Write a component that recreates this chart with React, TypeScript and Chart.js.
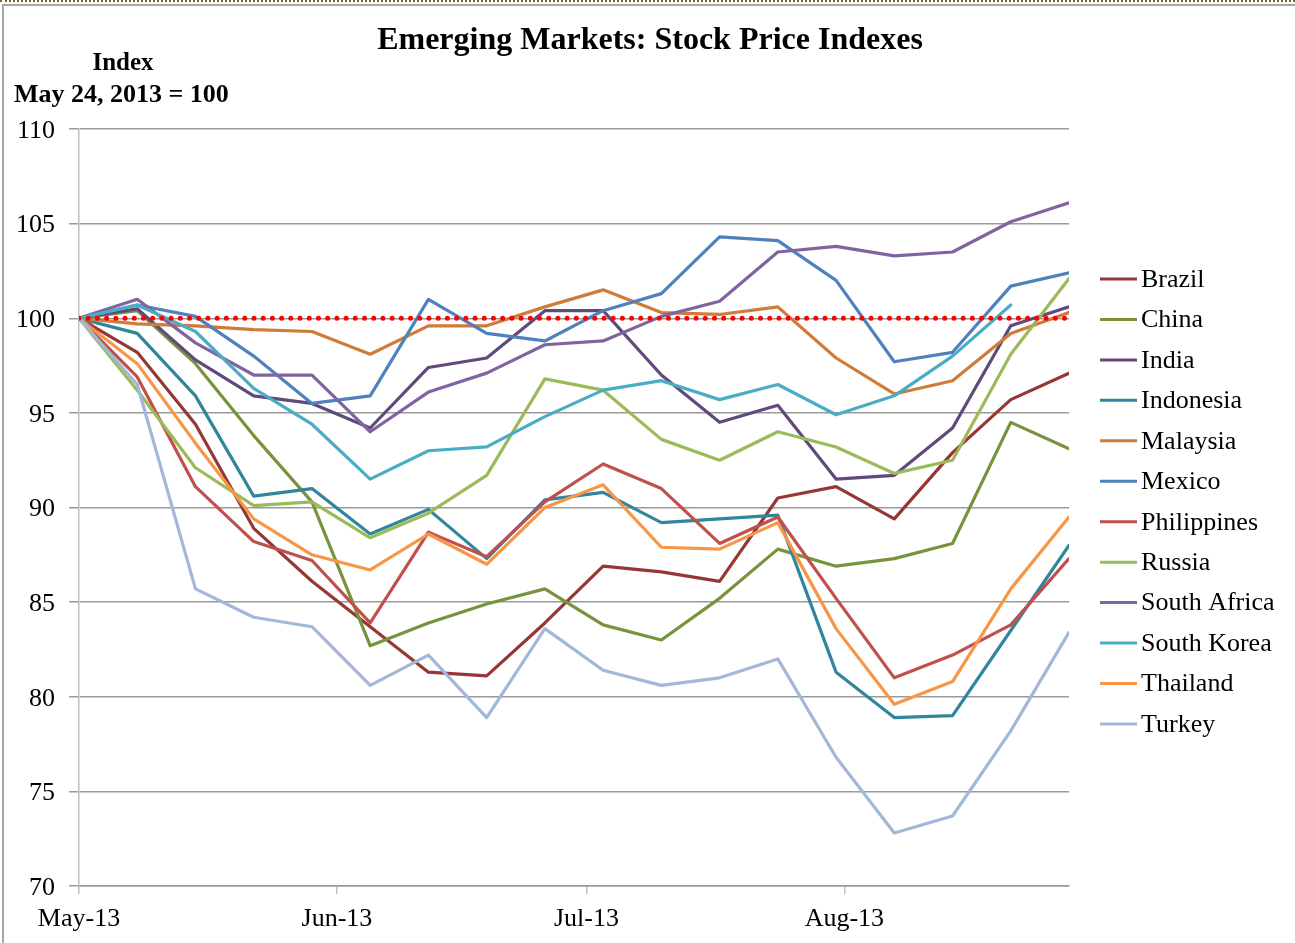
import React, { useEffect, useRef } from "react";
import { Chart, registerables } from "chart.js";

Chart.register(...registerables);

const FONT = '"Liberation Serif", "Times New Roman", serif';

const titleText = "Emerging Markets: Stock Price Indexes";
const axisTitleLine1 = "Index";
const axisTitleLine2 = "May 24, 2013 = 100";

const dates = [
  "2013-05-24", "2013-05-31", "2013-06-07", "2013-06-14", "2013-06-21", "2013-06-28",
  "2013-07-05", "2013-07-12", "2013-07-19", "2013-07-26", "2013-08-02", "2013-08-09",
  "2013-08-16", "2013-08-23", "2013-08-30", "2013-09-06", "2013-09-13", "2013-09-20",
];

const tickDates = ["2013-05-24", "2013-06-24", "2013-07-24", "2013-08-24"];
const tickLabels = ["May-13", "Jun-13", "Jul-13", "Aug-13"];

const yMin = 70;
const yMax = 110;
const yStep = 5;
const referenceLevel = 100;

const countries = [
  "Brazil", "China", "India", "Indonesia", "Malaysia", "Mexico",
  "Philippines", "Russia", "South Africa", "South Korea", "Thailand", "Turkey",
];

const colors = [
  "#953735", "#77933C", "#604A7B", "#31859C", "#D07B37", "#4F81BD",
  "#C0504D", "#9BBB59", "#8064A2", "#4BACC6", "#F79646", "#A3B7D8",
];

const brazil = [100, 98.2, 94.4, 88.9, 86.1, 83.7, 81.3, 81.1, 83.9, 86.9, 86.6, 86.1, 90.5, 91.1, 89.4, 92.9, 95.7, 97.1];
const china = [100, 100.4, 97.6, 93.8, 90.3, 82.7, 83.9, 84.9, 85.7, 83.8, 83.0, 85.2, 87.8, 86.9, 87.3, 88.1, 94.5, 93.1];
const india = [100, 100.5, 97.8, 95.9, 95.5, 94.2, 97.4, 97.9, 100.4, 100.4, 97.0, 94.5, 95.4, 91.5, 91.7, 94.2, 99.6, 100.6];
const indonesia = [100, 99.2, 95.9, 90.6, 91.0, 88.6, 89.9, 87.3, 90.4, 90.8, 89.2, 89.4, 89.6, 81.3, 78.9, 79.0, 83.5, 88.0];
const malaysia = [100, 99.7, 99.6, 99.4, 99.3, 98.1, 99.6, 99.6, 100.6, 101.5, 100.3, 100.2, 100.6, 97.9, 96.0, 96.7, 99.2, 100.3];
const mexico = [100, 100.7, 100.1, 98.0, 95.5, 95.9, 101.0, 99.2, 98.8, 100.4, 101.3, 104.3, 104.1, 102.0, 97.7, 98.2, 101.7, 102.4];
const philippines = [100, 96.9, 91.1, 88.2, 87.2, 83.9, 88.7, 87.4, 90.3, 92.3, 91.0, 88.1, 89.5, 85.2, 81.0, 82.2, 83.8, 87.3];
const russia = [100, 96.2, 92.1, 90.1, 90.3, 88.4, 89.7, 91.7, 96.8, 96.2, 93.6, 92.5, 94.0, 93.2, 91.8, 92.5, 98.1, 102.1];
const southAfrica = [100, 101.0, 98.7, 97.0, 97.0, 94.0, 96.1, 97.1, 98.6, 98.8, 100.1, 100.9, 103.5, 103.8, 103.3, 103.5, 105.1, 106.1];
const southKorea = [100, 100.7, 99.3, 96.3, 94.4, 91.5, 93.0, 93.2, 94.8, 96.2, 96.7, 95.7, 96.5, 94.9, 95.9, 98.0, 100.7, null];
const thailand = [100, 97.6, 93.4, 89.4, 87.5, 86.7, 88.6, 87.0, 90.0, 91.2, 87.9, 87.8, 89.2, 83.6, 79.6, 80.8, 85.7, 89.5];
const turkey = [100, 96.5, 85.7, 84.2, 83.7, 80.6, 82.2, 78.9, 83.6, 81.4, 80.6, 81.0, 82.0, 76.8, 72.8, 73.7, 78.2, 83.4];

const series = [brazil, china, india, indonesia, malaysia, mexico, philippines, russia, southAfrica, southKorea, thailand, turkey];

const DAY = 86400000;
const dayOf = (d: string) => Math.round((Date.parse(d) - Date.parse(dates[0])) / DAY);
const xDays = dates.map(dayOf);
const tickDays = tickDates.map(dayOf);

const overlayPlugin = {
  id: "overlayText",
  afterDraw(chart: any) {
    const ctx = chart.ctx as CanvasRenderingContext2D;
    const area = chart.chartArea;
    ctx.save();
    ctx.fillStyle = "#000";
    ctx.textBaseline = "middle";
    ctx.font = `bold 32px ${FONT}`;
    ctx.textAlign = "center";
    ctx.fillText(titleText, 650, 41);
    ctx.font = `bold 25px ${FONT}`;
    ctx.fillText(axisTitleLine1, 123, 64);
    ctx.textAlign = "left";
    ctx.font = `bold 26px ${FONT}`;
    ctx.fillText(axisTitleLine2, 14, 95);

    // legend
    const items = chart.data.datasets.filter((d: any) => !d.isReference);
    const startY = 279;
    const stepY = 40.45;
    const lx = area.right + 31;
    ctx.font = `26px ${FONT}`;
    items.forEach((d: any, i: number) => {
      const y = startY + i * stepY;
      ctx.strokeStyle = d.borderColor;
      ctx.lineWidth = 3;
      ctx.lineCap = "butt";
      ctx.beginPath();
      ctx.moveTo(lx, y);
      ctx.lineTo(lx + 37, y);
      ctx.stroke();
      ctx.fillStyle = "#000";
      ctx.fillText(d.label, lx + 41, y + 1);
    });
    ctx.restore();
  },
};

export default function App() {
  const ref = useRef<HTMLCanvasElement>(null);

  useEffect(() => {
    if (!ref.current) return;
    const datasets: any[] = countries.map((name, i) => ({
      label: name,
      data: series[i].map((v, j) => ({ x: xDays[j], y: v })),
      borderColor: colors[i],
      backgroundColor: colors[i],
      borderWidth: 3.2,
      pointRadius: 0,
      tension: 0,
      borderJoinStyle: "round",
      borderCapStyle: "round",
      order: countries.length - i,
      spanGaps: false,
    }));
    datasets.push({
      label: "ref",
      isReference: true,
      data: xDays.map((x) => ({ x, y: referenceLevel })),
      borderColor: "#FF0000",
      borderWidth: 5,
      borderDash: [0.01, 9.2],
      borderCapStyle: "round",
      pointRadius: 0,
      order: 0,
    });

    const chart = new Chart(ref.current, {
      type: "line",
      data: { datasets },
      plugins: [overlayPlugin],
      options: {
        animation: false,
        responsive: false,
        layout: { padding: { left: 0, top: 129, right: 226, bottom: 0 } },
        plugins: {
          legend: { display: false },
          tooltip: { enabled: false },
          title: { display: false },
        },
        scales: {
          x: {
            type: "linear",
            min: 0,
            max: xDays[xDays.length - 1],
            afterBuildTicks: (s: any) => {
              s.ticks = tickDays.map((v) => ({ value: v }));
            },
            afterFit: (s: any) => {
              s.height = 57;
            },
            ticks: {
              autoSkip: false,
              maxRotation: 0,
              minRotation: 0,
              padding: 10,
              color: "#000",
              font: { family: FONT, size: 26 },
              callback: (_v: any, idx: number) => tickLabels[idx] ?? "",
            },
            grid: { drawOnChartArea: false, tickLength: 8, color: "#BFBFBF", lineWidth: 1.5 },
            border: { display: true, color: "#9A9A9A", width: 1.5 },
          },
          y: {
            min: yMin,
            max: yMax,
            afterFit: (s: any) => {
              s.width = 79;
            },
            ticks: {
              stepSize: yStep,
              color: "#000",
              padding: 14,
              labelOffset: 2,
              font: { family: FONT, size: 26 },
            },
            grid: { color: "#9A9A9A", lineWidth: 1.5, tickLength: 10 },
            border: { display: true, color: "#BFBFBF", width: 1.5 },
          },
        },
      } as any,
    });
    return () => chart.destroy();
  }, []);

  return (
    <div style={{ position: "fixed", left: 0, top: 0, width: 1295, height: 943, background: "#fff", overflow: "hidden" }}>
      <canvas ref={ref} width={1295} height={943} style={{ position: "absolute", left: 0, top: 0 }} />
      <div style={{ position: "absolute", left: 0, top: 0, width: "100%", borderTop: "2px dotted #7D5F34" }} />
      <div
        style={{
          position: "absolute",
          left: 2,
          top: 4,
          right: -10,
          bottom: -10,
          borderTop: "2px solid #A6A6A6",
          borderLeft: "2px solid #A6A6A6",
        }}
      />
    </div>
  );
}
